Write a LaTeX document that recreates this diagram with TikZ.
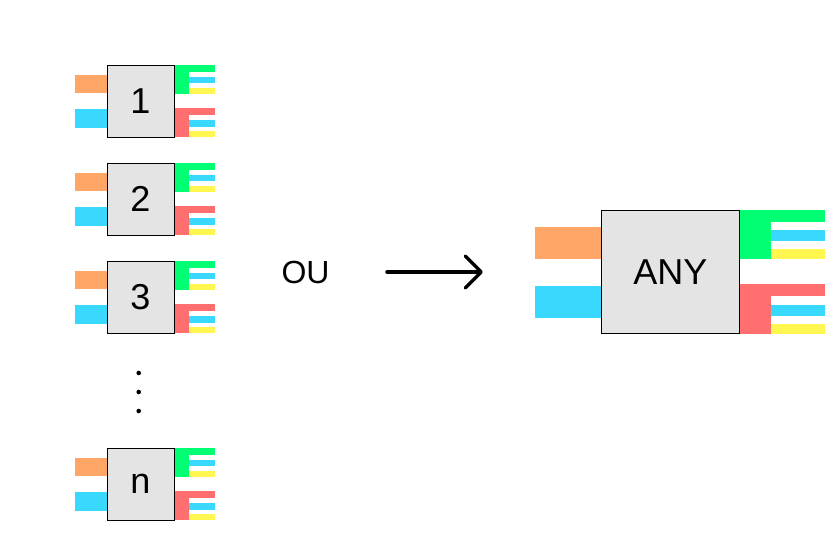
\documentclass[tikz,border=0pt]{standalone}
\usepackage{fontspec}
\setmainfont{Liberation Sans}
\usepackage{xcolor}
\usepackage{tikz}
\usetikzlibrary{arrows.meta}

\definecolor{plugorange}{HTML}{FFA566}
\definecolor{plugcyan}{HTML}{38D8FF}
\definecolor{pluggreen}{HTML}{00FF73}
\definecolor{plugred}{HTML}{FF6F6F}
\definecolor{plugyellow}{HTML}{FFF650}
\definecolor{pluggray}{HTML}{E4E4E4}

\tikzset{
    plugbox/.style={fill=pluggray, draw=black, line width=1pt},
    pluglabel/.style={inner sep=0pt, font=\fontsize{36}{40}\selectfont},
    pics/plug/.style={code={
        % inputs on the left
        \fill[plugorange] (-32,10) rectangle (0,28.3);
        \fill[plugcyan] (-32,44.3) rectangle (0,62.7);
        % two outputs on the right
        \foreach \c/\t in {pluggreen/0, plugred/43.3} {
            \fill[\c] (67,\t) rectangle (108,\t+6.7);
            \fill[\c] (67,\t) rectangle (82.3,\t+28.7);
            \fill[plugcyan] (82.3,\t+11.7) rectangle (108,\t+18.2);
            \fill[plugyellow] (82.3,\t+22.7) rectangle (108,\t+28.7);
        }
        \draw[plugbox] (0,0) rectangle (67,72);
        \node[pluglabel] (-label) at (33.5,36) {#1};
    }}
}

\begin{document}
\begin{tikzpicture}[x=1pt, y=-1pt]
        \useasboundingbox (0,0) rectangle (840,549);
        \pic (plug1) at (107,65) {plug=1};
        \pic (plug2) at (107,163) {plug=2};
        \pic (plug3) at (107,261) {plug=3};
        \pic (plugn) at (107,448) {plug=n};
        \foreach \y in {373,392,411}
            \fill (138.7,\y) circle (2.3);
        \node[inner sep=0pt, font=\fontsize{32}{36}\selectfont] (ou) at (305.5,272) {OU};
        \coordinate (arrowtail) at (387,272);
        \coordinate (arrowhead) at (483,272);
        \draw[line width=3.5pt, line cap=round, -{Straight Barb[length=16pt, width=32pt, round]}] (arrowtail) -- (arrowhead);
        \pic[xscale=2.07, yscale=1.72] (plugany) at (601,210) {plug=ANY};
    \end{tikzpicture}
\end{document}
